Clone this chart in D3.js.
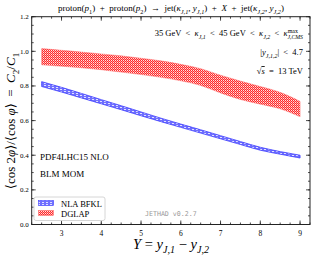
<!DOCTYPE html>
<html>
<head>
<meta charset="utf-8">
<script src="https://cdn.jsdelivr.net/npm/d3@7"></script>
<style>
  body { margin: 0; background: #fff; }
  svg { display: block; font-family: "Liberation Serif", "DejaVu Serif", serif; }
</style>
</head>
<body>
<svg width="316" height="257"></svg>
<script>
// **** Data ****
var rapidity = [2.5, 3, 3.5, 4, 4.5, 5, 5.5, 6, 6.5, 7, 7.5, 8, 8.5, 9];

// NLA BFKL band (blue)
var bfklLow  = [0.797, 0.765, 0.731, 0.697, 0.663, 0.628, 0.594, 0.561, 0.528, 0.495, 0.462, 0.429, 0.406, 0.384];
var bfklHigh = [0.825, 0.792, 0.757, 0.721, 0.686, 0.650, 0.614, 0.580, 0.547, 0.513, 0.479, 0.446, 0.421, 0.400];

// DGLAP band (red)
var dglapLow  = [0.922, 0.914, 0.905, 0.894, 0.880, 0.866, 0.850, 0.830, 0.803, 0.760, 0.722, 0.695, 0.668, 0.622];
var dglapHigh = [1.016, 1.006, 0.996, 0.985, 0.974, 0.960, 0.945, 0.925, 0.900, 0.862, 0.828, 0.797, 0.763, 0.711];

var xTicks = [3, 4, 5, 6, 7, 8, 9];
var yTicks = [0.0, 0.2, 0.4, 0.6, 0.8, 1.0, 1.2];

var svg = d3.select("svg");

// plot frame (note: "top" is taken by window.top, so use own names)
var frameL = 31.7, frameR = 310, frameT = 16.7, frameB = 224.5;

var xScale = d3.scaleLinear().domain([2.25, 9.25]).range([frameL, frameR]);
var yScale = d3.scaleLinear().domain([0, 1.2]).range([frameB, frameT]);

var sp = "\u2002"; // en space, LaTeX-like gaps around relations

// helper: write text built from pieces (italic / sub / sup)
function rich(textSel, parts, size) {
    var shift = 0;
    parts.forEach(function(p) {
        var target = 0;
        var fs = size;
        if (p.sub) { target = size * 0.3; fs = size * 0.7; }
        if (p.sup) { target = -size * 0.4; fs = size * 0.7; }
        var ts = textSel.append("tspan")
            .attr("dy", (target - shift).toFixed(2))
            .style("font-size", fs + "px")
            .text(p.t);
        if (p.i) ts.style("font-style", "italic");
        shift = target;
    });
}

// **** patterns ****
var defs = svg.append("defs");
var pr = defs.append("pattern").attr("id", "redHatch")
    .attr("patternUnits", "userSpaceOnUse").attr("width", 2).attr("height", 2);
pr.append("rect").attr("width", 2).attr("height", 2).attr("fill", "#ff2a2a");
pr.append("rect").attr("x", 1).attr("y", 0).attr("width", 1).attr("height", 1).attr("fill", "#ffe4e4");
pr.append("rect").attr("x", 0).attr("y", 1).attr("width", 1).attr("height", 1).attr("fill", "#ff9a9a");

var pb = defs.append("pattern").attr("id", "blueHatch")
    .attr("patternUnits", "userSpaceOnUse").attr("width", 4).attr("height", 2);
pb.append("rect").attr("width", 4).attr("height", 2).attr("fill", "#7070ff");
pb.append("rect").attr("x", 0).attr("y", 1).attr("width", 2).attr("height", 1).attr("fill", "#e0e0ff");

// **** bands ****
function bandData(low, high) {
    return rapidity.map(function(d, i) { return { x: d, lo: low[i], hi: high[i] }; });
}

var area = d3.area()
    .x(function(d) { return xScale(d.x); })
    .y0(function(d) { return yScale(d.lo); })
    .y1(function(d) { return yScale(d.hi); })
    .curve(d3.curveMonotoneX);

svg.append("path")
    .datum(bandData(dglapLow, dglapHigh))
    .attr("d", area)
    .attr("fill", "url(#redHatch)")
    .attr("stroke", "#ff7070")
    .attr("stroke-width", 0.5);

svg.append("path")
    .datum(bandData(bfklLow, bfklHigh))
    .attr("d", area)
    .attr("fill", "url(#blueHatch)")
    .attr("stroke", "#3b3bff")
    .attr("stroke-width", 0.8);

// **** frame and ticks ****
svg.append("rect")
    .attr("x", frameL).attr("y", frameT)
    .attr("width", frameR - frameL).attr("height", frameB - frameT)
    .attr("fill", "none").attr("stroke", "#222").attr("stroke-width", 1);

var xMinor = d3.range(2.25, 9.26, 0.25);
var yMinor = d3.range(0, 1.201, 0.05);

function tickLines(vals, len, horizontal) {
    vals.forEach(function(v) {
        if (horizontal) {
            var x = xScale(v);
            svg.append("line").attr("x1", x).attr("x2", x).attr("y1", frameB).attr("y2", frameB - len)
                .attr("stroke", "#222").attr("stroke-width", 0.8);
            svg.append("line").attr("x1", x).attr("x2", x).attr("y1", frameT).attr("y2", frameT + len)
                .attr("stroke", "#222").attr("stroke-width", 0.8);
        } else {
            var y = yScale(v);
            svg.append("line").attr("x1", frameL).attr("x2", frameL + len).attr("y1", y).attr("y2", y)
                .attr("stroke", "#222").attr("stroke-width", 0.8);
            svg.append("line").attr("x1", frameR).attr("x2", frameR - len).attr("y1", y).attr("y2", y)
                .attr("stroke", "#222").attr("stroke-width", 0.8);
        }
    });
}
tickLines(xMinor, 2, true);
tickLines(xTicks, 4, true);
tickLines(yMinor, 2, false);
tickLines(yTicks, 4, false);

svg.append("g").selectAll("text")
    .data(xTicks).enter().append("text")
    .attr("x", function(d) { return xScale(d); })
    .attr("y", frameB + 11)
    .attr("text-anchor", "middle")
    .style("font-size", "7.5px")
    .text(function(d) { return d; });

svg.append("g").selectAll("text")
    .data(yTicks).enter().append("text")
    .attr("x", frameL - 3)
    .attr("y", function(d) { return yScale(d) + 2.5; })
    .attr("text-anchor", "end")
    .style("font-size", "7px")
    .text(function(d) { return d.toFixed(1); });

// **** labels ****
var title = svg.append("text").attr("x", 171).attr("y", 11).attr("text-anchor", "middle");
rich(title, [
    { t: "proton(" }, { t: "p", i: 1 }, { t: "1", sub: 1 }, { t: ")" + sp + "+" + sp + "proton(" }, { t: "p", i: 1 }, { t: "2", sub: 1 },
    { t: ")" + sp + "→" + sp + "jet(" }, { t: "κ", i: 1 }, { t: "J,1", i: 1, sub: 1 }, { t: ", " }, { t: "y", i: 1 }, { t: "J,1", i: 1, sub: 1 },
    { t: ")" + sp + "+" + sp }, { t: "X", i: 1 }, { t: sp + "+" + sp + "jet(" }, { t: "κ", i: 1 }, { t: "J,2", i: 1, sub: 1 }, { t: ", " },
    { t: "y", i: 1 }, { t: "J,2", i: 1, sub: 1 }, { t: ")" }
], 9);

var xLab = svg.append("text").attr("x", 171).attr("y", 249).attr("text-anchor", "middle");
rich(xLab, [
    { t: "Y", i: 1 }, { t: " = " }, { t: "y", i: 1 }, { t: "J,1", i: 1, sub: 1 }, { t: " − " },
    { t: "y", i: 1 }, { t: "J,2", i: 1, sub: 1 }
], 14.5);

var yLab = svg.append("text")
    .attr("transform", "translate(15,121) rotate(-90)")
    .attr("text-anchor", "middle");
rich(yLab, [
    { t: "⟨cos 2" }, { t: "φ", i: 1 }, { t: "⟩/⟨cos " }, { t: "φ", i: 1 }, { t: "⟩" + sp + "=" + sp },
    { t: "C", i: 1 }, { t: "2", sub: 1 }, { t: "/" }, { t: "C", i: 1 }, { t: "1", sub: 1 }
], 13);

var note1 = svg.append("text").attr("x", 303).attr("y", 36).attr("text-anchor", "end");
rich(note1, [
    { t: "35 GeV" + sp + "<" + sp }, { t: "κ", i: 1 }, { t: "J,1", i: 1, sub: 1 }, { t: sp + "<" + sp + "45 GeV" + sp + "<" + sp },
    { t: "κ", i: 1 }, { t: "J,2", i: 1, sub: 1 }, { t: sp + "<" + sp }, { t: "κ", i: 1 }, { t: "max", sup: 1 }
], 8.5);
note1.append("tspan").attr("dx", -10.5).attr("dy", 6).style("font-size", "5.8px").style("font-style", "italic").text("J,CMS");

var note2 = svg.append("text").attr("x", 303).attr("y", 55).attr("text-anchor", "end");
rich(note2, [{ t: "|" }, { t: "y", i: 1 }, { t: "J,1,2", i: 1, sub: 1 }, { t: "|" + sp + "<" + sp + "4.7" }], 8.5);

var note3 = svg.append("text").attr("x", 303).attr("y", 74).attr("text-anchor", "end")
    .style("font-size", "8.5px");
note3.append("tspan").text("√");
note3.append("tspan").style("font-style", "italic").style("text-decoration", "overline").text("s");
note3.append("tspan").text(sp + "=" + sp + "13 TeV");

svg.append("text").attr("x", 40).attr("y", 160).style("font-size", "9px").text("PDF4LHC15 NLO");
svg.append("text").attr("x", 40).attr("y", 177).style("font-size", "9px").text("BLM MOM");

svg.append("text").attr("x", 145).attr("y", 216)
    .style("font-family", "'DejaVu Sans Mono', monospace").style("font-size", "6.6px")
    .attr("fill", "#999").text("JETHAD v0.2.7");

// **** legend ****
var legendNames = ["NLA BFKL", "DGLAP"];
var legendFills = ["url(#blueHatch)", "url(#redHatch)"];
var legendStrokes = ["#3b3bff", "#ff7070"];

var legend = svg.append("g").attr("class", "legend").attr("transform", "translate(34,197)");
legend.append("rect").attr("width", 71).attr("height", 23.5).attr("rx", 2)
    .attr("fill", "#fff").attr("stroke", "#ccc").attr("stroke-width", 0.8);
var item = legend.selectAll("g.item").data(legendNames).enter().append("g")
    .attr("class", "item")
    .attr("transform", function(d, i) { return "translate(0," + (i * 10) + ")"; });
item.append("rect").attr("x", 4.5).attr("y", 3.5).attr("width", 15).attr("height", 5)
    .attr("fill", function(d, i) { return legendFills[i]; })
    .attr("stroke", function(d, i) { return legendStrokes[i]; })
    .attr("stroke-width", 0.6);
item.append("text").attr("x", 27).attr("y", 9.5).style("font-size", "8.5px").text(function(d) { return d; });
</script>
</body>
</html>
